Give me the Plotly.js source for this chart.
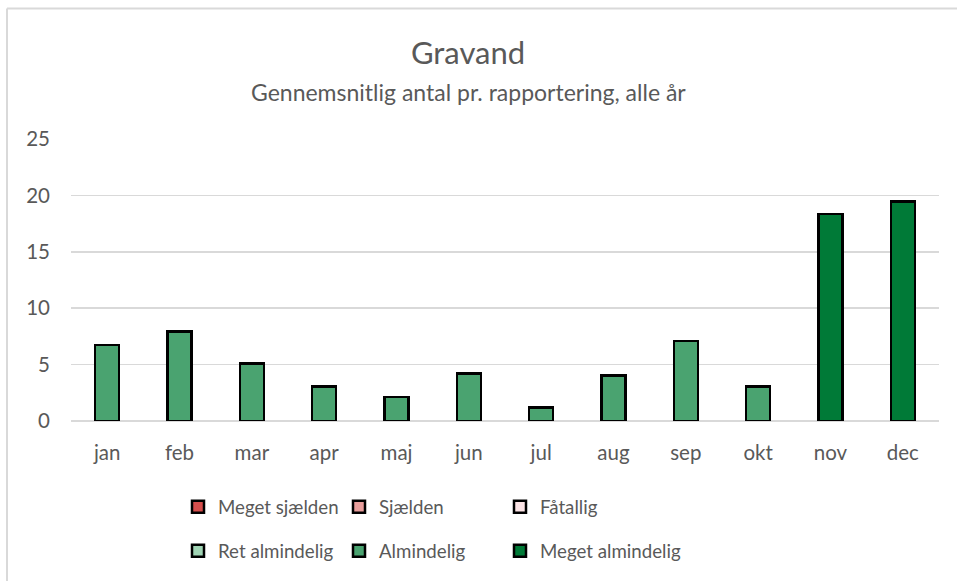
<!DOCTYPE html>
<html>
<head>
<meta charset="utf-8">
<script src="https://cdn.plot.ly/plotly-3.0.1.min.js"></script>
<style>
html,body{margin:0;padding:0;background:#fff;}
#chart{width:957px;height:581px;}
</style>
</head>
<body>
<div id="chart"></div>
<script>
const months = ["jan","feb","mar","apr","maj","jun","jul","aug","sep","okt","nov","dec"];
const values = [6.75, 7.95, 5.1, 3.05, 2.15, 4.2, 1.2, 4.05, 7.1, 3.05, 18.35, 19.45];
const monthClass = ["Almindelig","Almindelig","Almindelig","Almindelig","Almindelig","Almindelig","Almindelig","Almindelig","Almindelig","Almindelig","Meget almindelig","Meget almindelig"];
const classNames = ["Meget sjælden","Sjælden","Fåtallig","Ret almindelig","Almindelig","Meget almindelig"];
const classColors = ["#D64E4C","#E89D9B","#FCE4E6","#A0D4B4","#4AA370","#007A37"];
const yTicks = [0,5,10,15,20,25];

const FONT = "Lato, 'Open Sans', sans-serif";
const TXT = "#595959";

const legendIds = ["legend","legend2","legend3","legend4","legend5","legend6"];

const traces = classNames.map((name, i) => ({
  type: "bar",
  name: name,
  x: months,
  y: values.map((v, j) => monthClass[j] === name ? v : null),
  marker: {color: classColors[i], line: {color: "#000000", width: 2.5}},
  legend: legendIds[i],
  showlegend: true,
  hoverinfo: "x+y"
}));

// pixel helpers for the plot area (l=71, r=18, t=139, b=159)
const PL = 71, PW = 868, PB = 422, PH = 283;
const px = v => (v - PL) / PW;
const py = v => (PB - v) / PH;

const colLeft = [178, 339, 500];
const rowMid = [507, 551];

const layout = {
  width: 957, height: 581,
  margin: {l: 71, r: 18, t: 139, b: 159},
  paper_bgcolor: "#ffffff",
  plot_bgcolor: "#ffffff",
  font: {family: FONT, color: TXT, size: 18},
  barmode: "stack",
  bargap: 0.67,
  title: {
    text: "Gravand",
    font: {family: FONT, size: 31, color: TXT},
    x: 468/957, xanchor: "center", xref: "container",
    y: 1 - 53/581, yref: "container", yanchor: "middle"
  },
  annotations: [{
    text: "Gennemsnitlig antal pr. rapportering, alle år",
    xref: "paper", yref: "paper",
    x: px(468), xanchor: "center",
    y: py(92), yanchor: "middle",
    showarrow: false,
    font: {family: FONT, size: 23, color: TXT}
  }],
  xaxis: {
    type: "category",
    categoryorder: "array", categoryarray: months,
    showgrid: false,
    showline: false,
    zeroline: false,
    ticks: "",
    ticklabelstandoff: 17,
    tickfont: {family: FONT, size: 20.5, color: TXT}
  },
  yaxis: {
    range: [0, 25],
    tickvals: yTicks,
    ticktext: yTicks.map(String),
    showgrid: true,
    gridcolor: "#D9D9D9",
    gridwidth: 1.5,
    zeroline: true,
    zerolinecolor: "#D9D9D9",
    zerolinewidth: 1.5,
    showline: false,
    ticks: "",
    ticklabelstandoff: 20,
    tickfont: {family: FONT, size: 20.5, color: TXT}
  },
  shapes: [
    {type: "line", xref: "paper", yref: "paper",
     x0: px(7), x1: px(980), y0: py(8), y1: py(8),
     line: {color: "#D9D9D9", width: 2}},
    {type: "line", xref: "paper", yref: "paper",
     x0: px(7), x1: px(7), y0: py(8), y1: py(600),
     line: {color: "#D9D9D9", width: 2}}
  ]
};

legendIds.forEach((id, i) => {
  layout[id] = {
    orientation: "h",
    x: px(colLeft[i % 3]), xanchor: "left",
    y: py(rowMid[Math.floor(i / 3)]), yanchor: "middle",
    font: {family: FONT, size: 18.7, color: TXT},
    itemwidth: 30,
    bgcolor: "rgba(0,0,0,0)"
  };
});

Plotly.newPlot("chart", traces, layout, {displayModeBar: false, staticPlot: true});
</script>
</body>
</html>
